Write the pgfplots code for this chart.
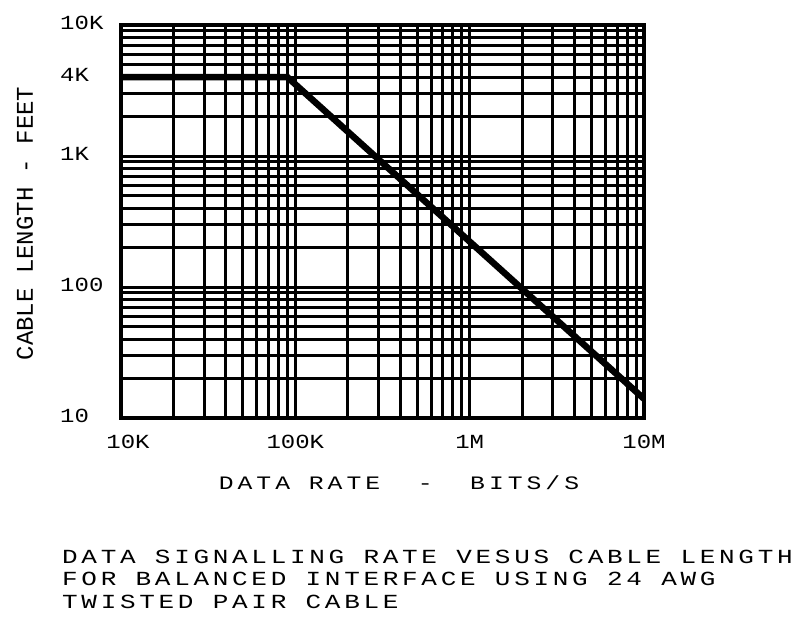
\documentclass[border=0pt]{standalone}
\usepackage{fontspec}
\usepackage{pgfplots}
\pgfplotsset{compat=1.18}
\newfontfamily\tickf[FakeStretch=1.2]{Liberation Mono}
\newfontfamily\labf[FakeStretch=1.3,LetterSpace=21]{Liberation Mono}
\newfontfamily\capf[FakeStretch=1.3,LetterSpace=18.5]{Liberation Mono}
\newfontfamily\ylabf{Liberation Mono}
\begin{document}
\begin{tikzpicture}
\path[use as bounding box] (0,0) rectangle (800pt,625pt);
\begin{axis}[
  at={(121pt,207pt)}, anchor=south west,
  scale only axis, width=523pt, height=393pt,
  xmode=log, ymode=log,
  xmin=1e4, xmax=1e7, ymin=10, ymax=1e4,
  xtick={1e4,1e5,1e6,1e7},
  xticklabels={\hspace{14pt}10K,100K,1M,10M},
  ytick={10,100,1000,4000,10000},
  yticklabels={10,100,1K,4K,10K},
  minor xtick={2e4,3e4,4e4,5e4,6e4,7e4,8e4,9e4,2e5,3e5,4e5,5e5,6e5,7e5,8e5,9e5,2e6,3e6,4e6,5e6,6e6,7e6,8e6,9e6},
  minor ytick={20,30,40,50,60,70,80,90,200,300,400,500,600,700,800,900,2000,3000,5000,6000,7000,8000,9000},
  major tick length=0pt, minor tick length=0pt,
  grid=both,
  major grid style={black, line width=3pt},
  minor grid style={black, line width=3pt},
  axis line style={black, line width=3.5pt},
  xticklabel style={font=\tickf\fontsize{20}{24}\selectfont, anchor=base, inner sep=0pt, yshift=-30pt},
  yticklabel style={font=\tickf\fontsize{20}{24}\selectfont, anchor=base west, inner sep=0pt, xshift=-61pt, yshift=-4pt},
  xlabel={DATA RATE\ \ -\ \ BITS/S},
  xlabel style={font=\labf\fontsize{19}{22}\selectfont, at={(axis description cs:0.5315,-0.1807)}, anchor=base, inner sep=0pt},
  ylabel={CABLE LENGTH - FEET},
  ylabel style={font=\ylabf\fontsize{24}{28}\selectfont, at={(axis description cs:-0.1836,0.495)}, anchor=center, rotate=0, inner sep=0pt},
]
\addplot[black, line width=6.5pt, line join=miter] coordinates {(1e4,4000) (9e4,4000) (1e7,14)};
\end{axis}
\node[anchor=base west, align=left, inner sep=0pt, font=\capf\fontsize{20}{22.5}\selectfont] at (62pt,17pt)
 {DATA SIGNALLING RATE VESUS CABLE LENGTH\\FOR BALANCED INTERFACE USING 24 AWG\\TWISTED PAIR CABLE};
\end{tikzpicture}
\end{document}
